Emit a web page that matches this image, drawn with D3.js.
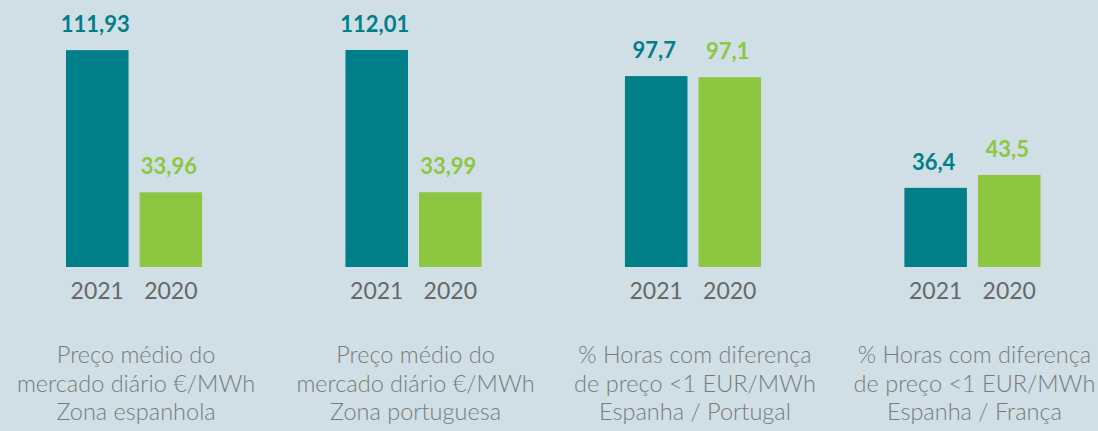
<!DOCTYPE html>
<html>
<head>
<meta charset="utf-8">
<script src="https://cdn.jsdelivr.net/npm/d3@7"></script>
<style>
  html, body { margin: 0; padding: 0; background: #cfdfe5; }
  svg { display: block; font-family: Lato, 'Open Sans', sans-serif; }
  .value { font-weight: 700; }
  .year { fill: #676767; }
  .cat { fill: #7a7a7a; font-weight: 300; }
</style>
</head>
<body>
<svg id="chart"></svg>
<script>
const categories = [
  ['Preço médio do', 'mercado diário €/MWh', 'Zona espanhola'],
  ['Preço médio do', 'mercado diário €/MWh', 'Zona portuguesa'],
  ['% Horas com diferença', 'de preço <1 EUR/MWh', 'Espanha / Portugal'],
  ['% Horas com diferença', 'de preço <1 EUR/MWh', 'Espanha / França'],
];
const years = ['2021', '2020'];
const values2021 = [111.93, 112.01, 97.7, 36.4];
const values2020 = [33.96, 33.99, 97.1, 43.5];

const colors = { '2021': '#007f88', '2020': '#8dc641' };

const width = 1098, height = 431;
const base = 267;

const data = categories.map((c, i) => ({
  key: i,
  lines: c,
  bars: [
    { year: '2021', value: values2021[i] },
    { year: '2020', value: values2020[i] },
  ],
}));

const svg = d3.select('#chart').attr('width', width).attr('height', height);

const x0 = d3.scaleBand(data.map((d) => d.key), [66, 1040.5]).paddingInner(0.513);
const x1 = d3.scaleBand(years, [0, x0.bandwidth()]).paddingInner(0.15);
// the original bars don't start from zero, small offset on the domain
const y = d3.scaleLinear([-7, 112], [base, 50]);

const fmt = (v) => String(v).replace('.', ',');

const groups = svg
  .selectAll('g.group')
  .data(data)
  .join('g')
  .classed('group', true)
  .attr('transform', (d) => `translate(${x0(d.key)},0)`);

groups
  .selectAll('rect')
  .data((d) => d.bars)
  .join('rect')
  .attr('x', (d) => x1(d.year))
  .attr('y', (d) => y(d.value))
  .attr('width', x1.bandwidth())
  .attr('height', (d) => base - y(d.value))
  .attr('fill', (d) => colors[d.year]);

groups
  .selectAll('text.value')
  .data((d) => d.bars)
  .join('text')
  .classed('value', true)
  .attr('x', (d) => x1(d.year) + x1.bandwidth() / 2 - 2)
  .attr('y', (d) => y(d.value) - 18)
  .attr('text-anchor', 'middle')
  .attr('font-size', 22)
  .attr('fill', (d) => colors[d.year])
  .text((d) => fmt(d.value));

// year axis under each group
groups.each(function () {
  const ax = d3.select(this)
    .append('g')
    .attr('transform', `translate(0,${base})`)
    .call(d3.axisBottom(x1).tickSize(0).tickPadding(10))
    .attr('font-family', null)
    .attr('font-size', null);
  ax.select('.domain').remove();
  ax.selectAll('.tick text')
    .attr('class', 'year')
    .attr('font-size', 23)
    .attr('fill', null)
    .attr('dy', null)
    .attr('y', 32);
});

groups
  .append('text')
  .classed('cat', true)
  .attr('text-anchor', 'middle')
  .attr('font-size', 23.5)
  .selectAll('tspan')
  .data((d) => d.lines)
  .join('tspan')
  .attr('x', x0.bandwidth() / 2 + 2)
  .attr('y', (d, i) => 363 + i * 28.7)
  .text((d) => d);
</script>
</body>
</html>
